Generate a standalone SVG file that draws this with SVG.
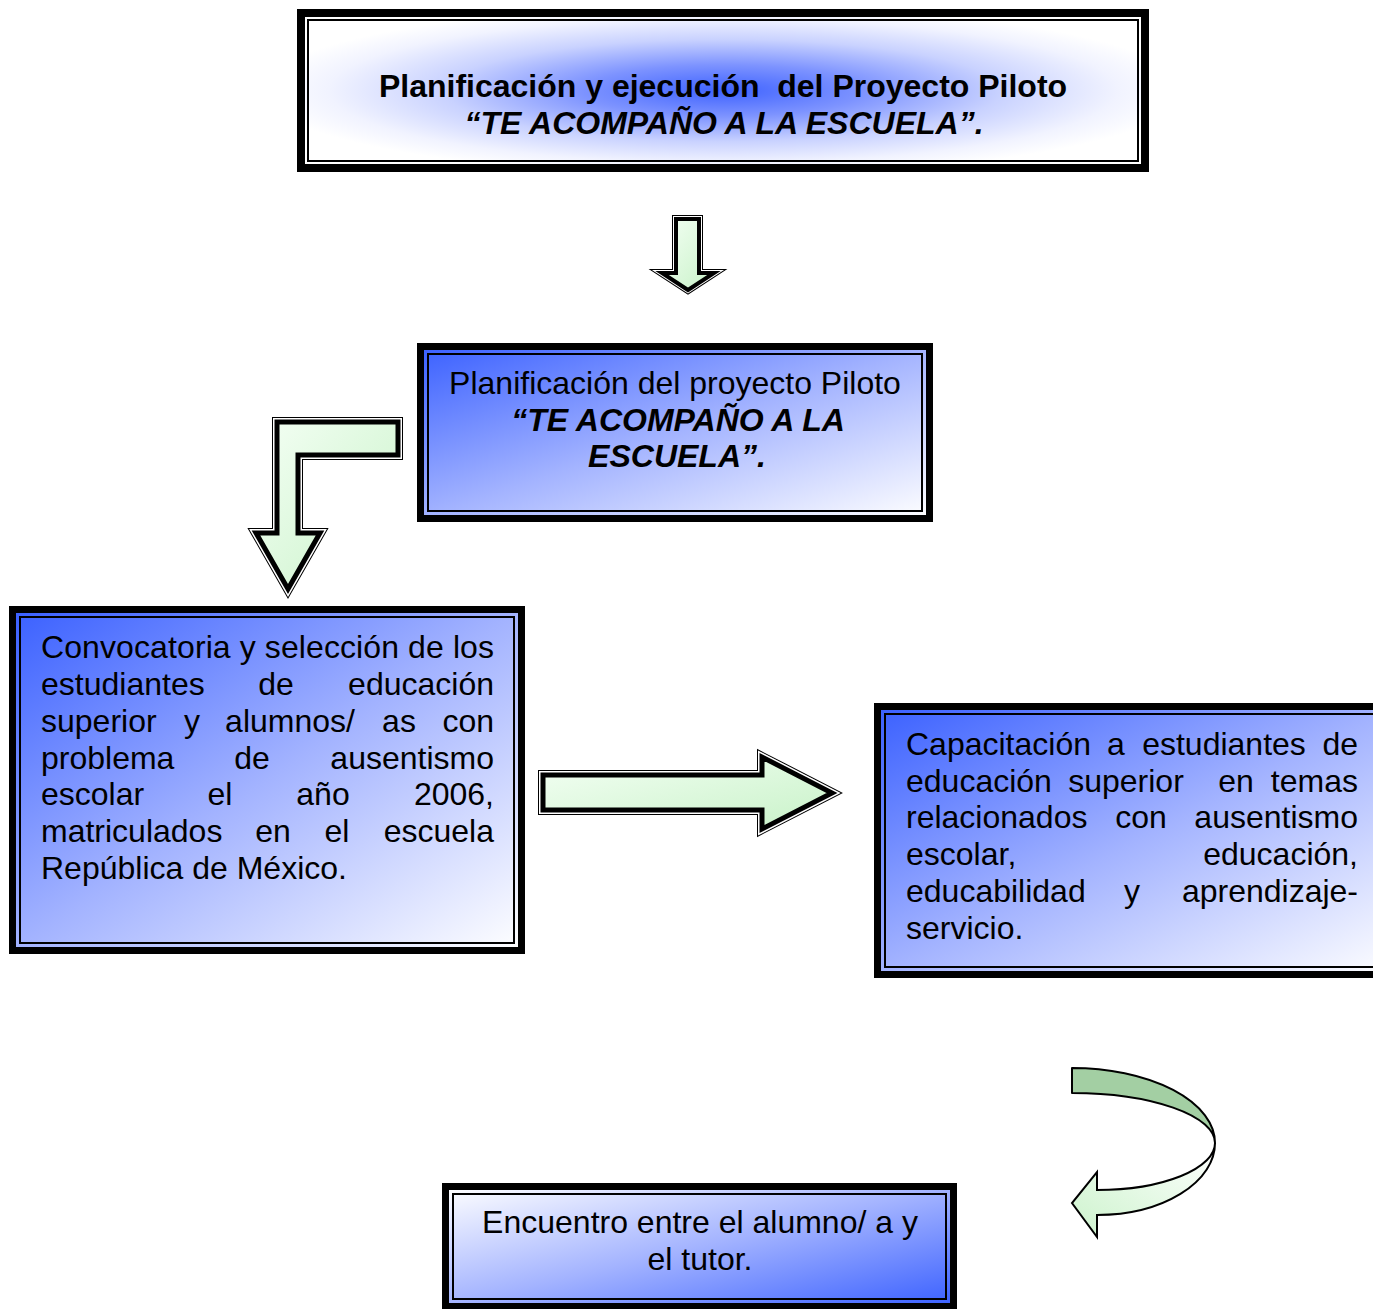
<svg xmlns="http://www.w3.org/2000/svg" width="1373" height="1309" viewBox="0 0 1373 1309">
<defs>
<radialGradient id="gTop" cx="0.5" cy="0.5" r="0.55">
<stop offset="0" stop-color="#3f63ff"/>
<stop offset="0.3" stop-color="#7d93ff"/>
<stop offset="0.6" stop-color="#c9d2ff"/>
<stop offset="0.85" stop-color="#f1f3ff"/>
<stop offset="1" stop-color="#ffffff"/>
</radialGradient>
<linearGradient id="gBlue" x1="0" y1="0" x2="1" y2="1">
<stop offset="0" stop-color="#3a60ff"/>
<stop offset="0.5" stop-color="#a3b3ff"/>
<stop offset="1" stop-color="#ffffff"/>
</linearGradient>
<linearGradient id="gBlueRev" x1="0" y1="0" x2="1" y2="1">
<stop offset="0" stop-color="#ffffff"/>
<stop offset="0.5" stop-color="#a3b3ff"/>
<stop offset="1" stop-color="#3a60ff"/>
</linearGradient>
<linearGradient id="gGreen" x1="0" y1="0" x2="1" y2="1">
<stop offset="0" stop-color="#f4fff4"/>
<stop offset="1" stop-color="#c8f2c8"/>
</linearGradient>
<linearGradient id="gGreenCurve" x1="1" y1="0" x2="0" y2="1">
<stop offset="0" stop-color="#ffffff"/>
<stop offset="1" stop-color="#ccf3cc"/>
</linearGradient>
<path id="pDown" d="M676,219 H699 V273 H714 L688,290 L662,273 H676 Z"/>
<path id="pBent" d="M398,422 H277 V533 H256 L288,589 L320,533 H298 V455 H398 Z"/>
<path id="pRight" d="M543,775 H762 V757 L832,793 L762,829 V810 H543 Z"/>
</defs>
<style>
.thick{stroke:#000;}
.thin{fill:none;stroke:#000;stroke-width:2;}
.t{font-family:"Liberation Sans",Arial,sans-serif;font-size:32px;fill:#000;}
.b{font-weight:bold;}
.bi{font-weight:bold;font-style:italic;}
.m{text-anchor:middle;}
.e{text-anchor:end;}
.o1{fill:none;stroke:#000;stroke-width:10;stroke-linejoin:miter;}
.o2{fill:none;stroke:#fff;stroke-width:8;stroke-linejoin:miter;}
.o3{fill:url(#gGreen);stroke:#000;stroke-width:5;stroke-linejoin:miter;}
.s1{fill:none;stroke:#000;stroke-width:8;stroke-linejoin:miter;}
.s2{fill:none;stroke:#fff;stroke-width:6;stroke-linejoin:miter;}
.s3{fill:url(#gGreen);stroke:#000;stroke-width:4;stroke-linejoin:miter;}
</style>
<rect x="0" y="0" width="1373" height="1309" fill="#fff"/>

<g id="node-titulo">
<rect x="301" y="13" width="844" height="155" fill="url(#gTop)" class="thick" stroke-width="8"/>
<rect x="308" y="20" width="830" height="141" class="thin"/>
<text class="t b m" x="723" y="97">Planificación y ejecución&#160; del Proyecto Piloto</text>
<text class="t bi m" x="724" y="134">“TE ACOMPAÑO A LA ESCUELA”.</text>
</g>

<g id="node-planificacion">
<rect x="420.5" y="346.5" width="509" height="172" fill="url(#gBlue)" class="thick" stroke-width="7"/>
<rect x="428" y="354" width="494" height="157" class="thin"/>
<text class="t m" x="675" y="394">Planificación del proyecto Piloto</text>
<text class="t bi m" x="678" y="431">“TE ACOMPAÑO A LA</text>
<text class="t bi m" x="677" y="467">ESCUELA”.</text>
</g>

<g id="node-convocatoria">
<rect x="12.5" y="609.5" width="509" height="341" fill="url(#gBlue)" class="thick" stroke-width="7"/>
<rect x="20" y="617" width="494" height="326" class="thin"/>
<text class="t" x="41" y="658" textLength="453" lengthAdjust="spacing">Convocatoria y selección de los</text>
<text class="t" x="41" y="695">estudiantes</text>
<text class="t m" x="276" y="695">de</text>
<text class="t e" x="494" y="695">educación</text>
<text class="t" x="41" y="732">superior</text>
<text class="t m" x="192" y="732">y</text>
<text class="t m" x="290" y="732">alumnos/</text>
<text class="t m" x="399" y="732">as</text>
<text class="t e" x="494" y="732">con</text>
<text class="t" x="41" y="769">problema</text>
<text class="t m" x="252" y="769">de</text>
<text class="t e" x="494" y="769">ausentismo</text>
<text class="t" x="41" y="805">escolar</text>
<text class="t m" x="220" y="805">el</text>
<text class="t m" x="323" y="805">año</text>
<text class="t e" x="494" y="805">2006,</text>
<text class="t" x="41" y="842">matriculados</text>
<text class="t m" x="273" y="842">en</text>
<text class="t m" x="337" y="842">el</text>
<text class="t e" x="494" y="842">escuela</text>
<text class="t" x="41" y="879">República de México.</text>
</g>

<g id="node-capacitacion">
<rect x="877.5" y="706.5" width="520" height="268" fill="url(#gBlue)" class="thick" stroke-width="7"/>
<rect x="885" y="714" width="505" height="253" class="thin"/>
<text class="t" x="906" y="755">Capacitación</text>
<text class="t m" x="1116" y="755">a</text>
<text class="t m" x="1224" y="755">estudiantes</text>
<text class="t e" x="1358" y="755">de</text>
<text class="t" x="906" y="792">educación</text>
<text class="t m" x="1126" y="792">superior</text>
<text class="t m" x="1236" y="792">en</text>
<text class="t e" x="1358" y="792">temas</text>
<text class="t" x="906" y="828">relacionados</text>
<text class="t m" x="1141" y="828">con</text>
<text class="t e" x="1358" y="828">ausentismo</text>
<text class="t" x="906" y="865">escolar,</text>
<text class="t e" x="1358" y="865">educación,</text>
<text class="t" x="906" y="902">educabilidad</text>
<text class="t m" x="1132" y="902">y</text>
<text class="t e" x="1358" y="902">aprendizaje-</text>
<text class="t" x="906" y="939">servicio.</text>
</g>

<g id="node-encuentro">
<rect x="445.5" y="1186.5" width="508" height="120" fill="url(#gBlueRev)" class="thick" stroke-width="7"/>
<rect x="453" y="1194" width="493" height="105" class="thin"/>
<text class="t m" x="700" y="1233">Encuentro entre el alumno/ a y</text>
<text class="t m" x="700" y="1270">el tutor.</text>
</g>

<g id="connectors">
<g id="arrow-down">
<use href="#pDown" class="s1"/>
<use href="#pDown" class="s2"/>
<use href="#pDown" class="s3"/>
</g>
<g id="arrow-bent">
<use href="#pBent" class="o1"/>
<use href="#pBent" class="o2"/>
<use href="#pBent" class="o3"/>
</g>
<g id="arrow-right">
<use href="#pRight" class="o1"/>
<use href="#pRight" class="o2"/>
<use href="#pRight" class="o3"/>
</g>
<g id="arrow-curved">
<path d="M1072,1068 A143,75 0 0 1 1215,1143 A143,50 0 0 0 1072,1093 Z" fill="#a3cfa3" stroke="#000" stroke-width="2" stroke-linejoin="round"/>
<path d="M1215,1143 A118,72 0 0 1 1097,1215 L1097,1237 L1072,1203 L1097,1172 L1097,1190 A118,47 0 0 0 1215,1143 Z" fill="url(#gGreenCurve)" stroke="#000" stroke-width="2" stroke-linejoin="miter"/>
</g>
</g>
</svg>
